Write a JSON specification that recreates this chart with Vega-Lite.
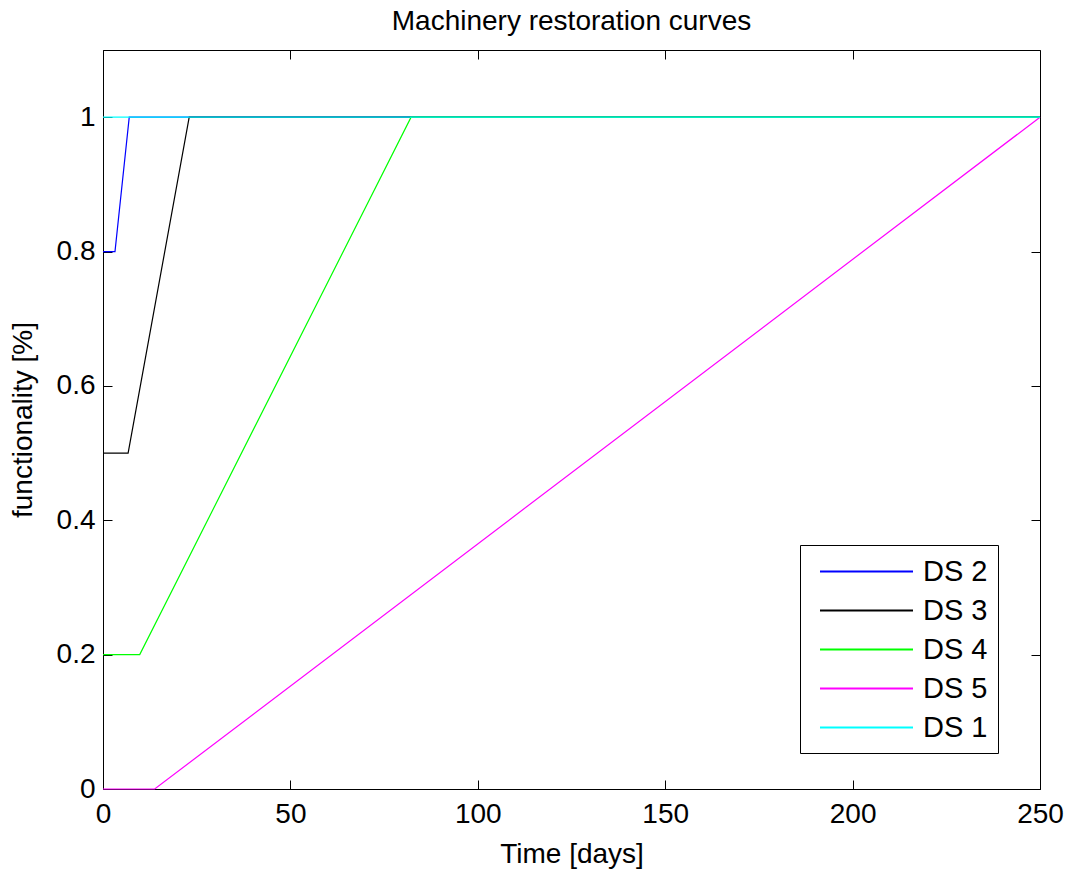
{
  "$schema": "https://vega.github.io/schema/vega-lite/v6.json",
  "autosize": {"type": "none"},
  "width": 937,
  "height": 739,
  "padding": {"left": 103, "top": 50, "right": 29, "bottom": 85},
  "background": "white",
  "title": {"text": "Machinery restoration curves", "fontSize": 28, "font": "Liberation Sans", "fontWeight": "normal", "color": "black", "offset": 14},
  "data": {"values": [
    {"series": "DS 2", "t": 0, "f": 0.8},
    {"series": "DS 2", "t": 3.2, "f": 0.8},
    {"series": "DS 2", "t": 7, "f": 1},
    {"series": "DS 2", "t": 250, "f": 1},
    {"series": "DS 3", "t": 0, "f": 0.5},
    {"series": "DS 3", "t": 6.7, "f": 0.5},
    {"series": "DS 3", "t": 23, "f": 1},
    {"series": "DS 3", "t": 250, "f": 1},
    {"series": "DS 4", "t": 0, "f": 0.2},
    {"series": "DS 4", "t": 9.8, "f": 0.2},
    {"series": "DS 4", "t": 82.2, "f": 1},
    {"series": "DS 4", "t": 250, "f": 1},
    {"series": "DS 5", "t": 0, "f": 0},
    {"series": "DS 5", "t": 13.8, "f": 0},
    {"series": "DS 5", "t": 250, "f": 1},
    {"series": "DS 1", "t": 0, "f": 1},
    {"series": "DS 1", "t": 250, "f": 1}
  ]},
  "layer": [
    {
      "mark": {"type": "line", "strokeWidth": 1.2, "interpolate": "linear"},
      "encoding": {
        "x": {"field": "t", "type": "quantitative", "scale": {"domain": [0, 250], "nice": false, "zero": false},
              "axis": {"title": "Time [days]", "values": [0, 50, 100, 150, 200, 250], "orient": "bottom", "tickSize": -9, "labelPadding": 20, "titlePadding": 12, "labelFlush": false}},
        "y": {"field": "f", "type": "quantitative", "scale": {"domain": [0, 1.1], "nice": false, "zero": false},
              "axis": {"title": "functionality [%]", "values": [0, 0.2, 0.4, 0.6, 0.8, 1], "format": "~g", "orient": "left", "tickSize": -9, "labelPadding": 17, "titlePadding": 19, "labelFlush": false}},
        "color": {"field": "series", "type": "nominal",
                  "scale": {"domain": ["DS 2", "DS 3", "DS 4", "DS 5", "DS 1"], "range": ["#0000ff", "#000000", "#00ff00", "#ff00ff", "#00ffff"]},
                  "sort": ["DS 2", "DS 3", "DS 4", "DS 5", "DS 1"],
                  "legend": {"title": null, "orient": "none", "legendX": 697, "legendY": 495}},
        "order": {"field": "t", "type": "quantitative"}
      }
    },
    {
      "mark": {"type": "line", "opacity": 0},
      "encoding": {
        "x": {"field": "t", "type": "quantitative", "axis": {"orient": "top", "labels": false, "title": null, "domain": false, "values": [0, 50, 100, 150, 200, 250], "tickSize": -9}},
        "y": {"field": "f", "type": "quantitative", "axis": {"orient": "right", "labels": false, "title": null, "domain": false, "values": [0, 0.2, 0.4, 0.6, 0.8, 1], "tickSize": -9}}
      }
    }
  ],
  "resolve": {"axis": {"x": "independent", "y": "independent"}},
  "config": {
    "view": {"stroke": "black", "strokeWidth": 1},
    "axis": {"grid": false, "domainColor": "black", "tickColor": "black", "labelColor": "black", "titleColor": "black",
             "labelFont": "Liberation Sans", "titleFont": "Liberation Sans", "labelFontSize": 28, "titleFontSize": 28, "titleFontWeight": "normal", "domainWidth": 1, "tickWidth": 1},
    "legend": {"strokeColor": "black", "fillColor": "white", "padding": 10, "labelFont": "Liberation Sans", "labelFontSize": 29, "labelColor": "black",
               "symbolType": "M-3,0H3", "symbolSize": 961, "symbolStrokeWidth": 2, "symbolOffset": 40, "labelOffset": 40, "rowPadding": 7}
  }
}
